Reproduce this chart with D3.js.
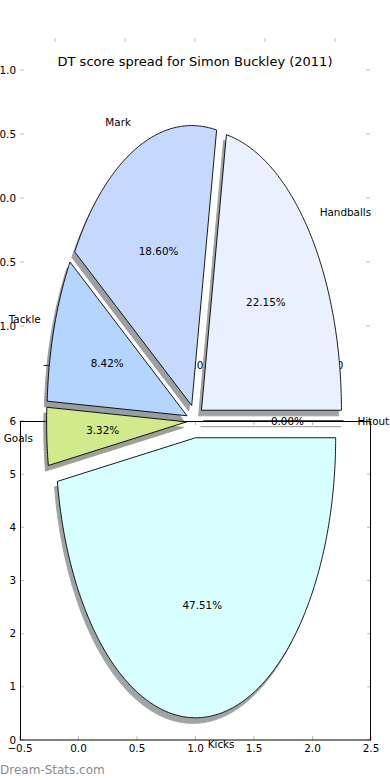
<!DOCTYPE html>
<html>
<head>
<meta charset="utf-8">
<script src="https://cdn.jsdelivr.net/npm/d3@7"></script>
<style>
body { margin: 0; background: #fff; }
text { font-family: "DejaVu Sans", sans-serif; }
</style>
</head>
<body>
<div id="chart"></div>
<script>
// chart data
var labels = ["Hitout", "Handballs", "Mark", "Tackle", "Goals", "Kicks"];
var percents = [0.00, 22.15, 18.60, 8.42, 3.32, 47.51];
var colours = ["#ffffff", "#eaf1fe", "#c5d9fe", "#b4d5fe", "#d0ea8c", "#d8ffff"];
var explode = [0.06, 0.06, 0.06, 0.06, 0.06, 0.06];
var upperTicks = [-1, -0.5, 0, 0.5, 1];
var lowerXTicks = [-0.5, 0, 0.5, 1, 1.5, 2, 2.5];
var lowerYTicks = [0, 1, 2, 3, 4, 5, 6];
var title = "DT score spread for Simon Buckley (2011)";
var watermark = "Dream-Stats.com";

var width = 390, height = 780;
var tickLen = 4, tickCol = "#bdbdbd", fs = 10.4;

var svg = d3.select("#chart").append("svg")
    .attr("width", width).attr("height", height);

// the two axes matplotlib left behind, plus the pie's own (stretched) frame
var upX = d3.scaleLinear().domain([-1.25, 1.25]).range([20, 370]);
var upY = d3.scaleLinear().domain([-1.25, 1.25]).range([358, 38]);
var loX = d3.scaleLinear().domain([-0.5, 2.5]).range([20, 371]);
var loY = d3.scaleLinear().domain([0, 6]).range([740, 421]);
var pieX = d3.scaleLinear().domain([-1, 1]).range([55, 335]);
var pieY = d3.scaleLinear().domain([-1, 1]).range([701, 141]);

var fmt = d3.format(".1f");
var pct = d3.format(".2f");

// upper axes: no frame, just the grey tick marks and labels
var up = svg.append("g");
upperTicks.forEach(function (t) {
  up.append("line").attr("x1", upX(t)).attr("x2", upX(t)).attr("y1", upY.range()[1]).attr("y2", upY.range()[1] + tickLen).attr("stroke", tickCol);
  up.append("line").attr("x1", upX(t)).attr("x2", upX(t)).attr("y1", upY.range()[0]).attr("y2", upY.range()[0] - tickLen).attr("stroke", tickCol);
  up.append("line").attr("x1", upX.range()[0]).attr("x2", upX.range()[0] + tickLen).attr("y1", upY(t)).attr("y2", upY(t)).attr("stroke", tickCol);
  up.append("line").attr("x1", upX.range()[1]).attr("x2", upX.range()[1] - tickLen).attr("y1", upY(t)).attr("y2", upY(t)).attr("stroke", tickCol);
  up.append("text").attr("x", upX.range()[0] - 4).attr("y", upY(t)).attr("dy", "0.35em")
    .attr("text-anchor", "end").style("font-size", fs + "px").text(fmt(t));
  up.append("text").attr("x", upX(t)).attr("y", upY.range()[0] + 7).attr("dy", "0.35em")
    .attr("text-anchor", "middle").style("font-size", fs + "px").text(fmt(t));
});

// lower axes with a black frame
var lo = svg.append("g");
lowerXTicks.forEach(function (t) {
  lo.append("line").attr("x1", loX(t)).attr("x2", loX(t)).attr("y1", 740).attr("y2", 740 - tickLen).attr("stroke", tickCol);
  lo.append("line").attr("x1", loX(t)).attr("x2", loX(t)).attr("y1", 421).attr("y2", 421 + tickLen).attr("stroke", tickCol);
  lo.append("text").attr("x", loX(t)).attr("y", 748).attr("dy", "0.35em")
    .attr("text-anchor", "middle").style("font-size", fs + "px").text(fmt(t));
});
lowerYTicks.forEach(function (t) {
  lo.append("line").attr("x1", 20).attr("x2", 20 + tickLen).attr("y1", loY(t)).attr("y2", loY(t)).attr("stroke", tickCol);
  lo.append("line").attr("x1", 371).attr("x2", 371 - tickLen).attr("y1", loY(t)).attr("y2", loY(t)).attr("stroke", tickCol);
  lo.append("text").attr("x", 16).attr("y", loY(t)).attr("dy", "0.35em")
    .attr("text-anchor", "end").style("font-size", fs + "px").text(t);
});
lo.append("rect").attr("x", 20.5).attr("y", 421.5).attr("width", 350).attr("height", 318.5)
  .attr("fill", "none").attr("stroke", "#000").attr("stroke-width", 1);

// pie: d3.pie gives the cumulative angles, we read them as matplotlib's
// counter-clockwise-from-east angles
var arcs = d3.pie().sort(null).value(function (d) { return d; })(percents);

var line = d3.line();
function wedgePath(d, i, ox, oy) {
  var mid = (d.startAngle + d.endAngle) / 2;
  var cx = explode[i] * Math.cos(mid) + ox, cy = explode[i] * Math.sin(mid) + oy;
  var pts = [[pieX(cx), pieY(cy)]];
  var n = Math.max(2, Math.ceil((d.endAngle - d.startAngle) / 0.01));
  for (var k = 0; k <= n; k++) {
    var a = d.startAngle + (d.endAngle - d.startAngle) * k / n;
    pts.push([pieX(cx + Math.cos(a)), pieY(cy + Math.sin(a))]);
  }
  return line(pts) + "Z";
}

var pie = svg.append("g");

// shadows first, all below the wedges
function shade(i) { var c = d3.rgb(colours[i]); return d3.rgb(c.r * 0.3, c.g * 0.3, c.b * 0.3); }
pie.selectAll("path.shadow").data(arcs).enter().append("path")
  .attr("class", "shadow")
  .attr("d", function (d, i) { return wedgePath(d, i, -0.02, -0.02); })
  .attr("fill", function (d, i) { return shade(i); })
  .attr("stroke", function (d, i) { return shade(i); })
  .attr("opacity", 0.5);

pie.selectAll("path.wedge").data(arcs).enter().append("path")
  .attr("class", "wedge")
  .attr("d", function (d, i) { return wedgePath(d, i, 0, 0); })
  .attr("fill", function (d, i) { return colours[i]; })
  .attr("stroke", "#000").attr("stroke-width", 0.9).attr("stroke-linejoin", "round");

// category labels at 1.1 radius, percentages at 0.6
arcs.forEach(function (d, i) {
  var mid = (d.startAngle + d.endAngle) / 2;
  var cx = explode[i] * Math.cos(mid), cy = explode[i] * Math.sin(mid);
  var lx = cx + 1.1 * Math.cos(mid), ly = cy + 1.1 * Math.sin(mid);
  pie.append("text").attr("x", pieX(lx)).attr("y", pieY(ly)).attr("dy", "0.35em")
    .attr("text-anchor", lx > 0 ? "start" : "end")
    .style("font-size", fs + "px").text(labels[i]);
  pie.append("text")
    .attr("x", pieX(cx + 0.6 * Math.cos(mid))).attr("y", pieY(cy + 0.6 * Math.sin(mid))).attr("dy", "0.35em")
    .attr("text-anchor", "middle").style("font-size", fs + "px").text(pct(d.data) + "%");
});

svg.append("text").attr("x", 195).attr("y", 61).attr("dy", "0.35em")
  .attr("text-anchor", "middle").style("font-size", "13px").text(title);

svg.append("text").attr("x", 0).attr("y", 770).attr("dy", "0.35em")
  .style("font-size", "12px").attr("fill", "#8a8a8a").text(watermark);
</script>
</body>
</html>
